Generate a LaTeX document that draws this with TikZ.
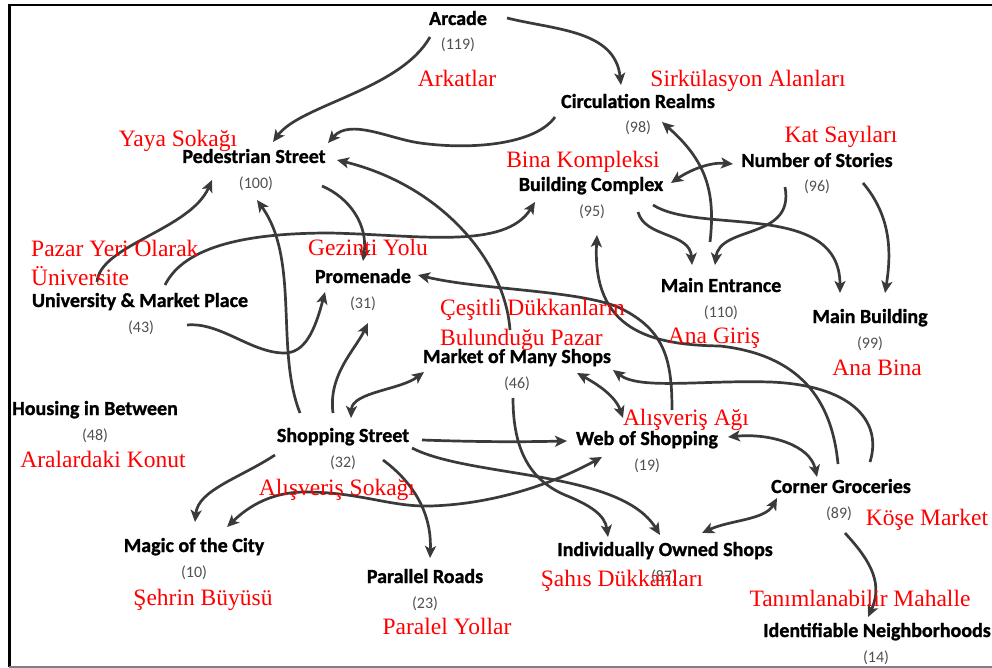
\documentclass[tikz,border=0pt]{standalone}
\usepackage{fontspec}
\usetikzlibrary{arrows.meta}
\newfontfamily\lblfam{Carlito}[BoldFeatures={FakeBold=1.2}]
\newfontfamily\trfam{Liberation Serif}
\definecolor{edgec}{RGB}{58,58,58}
\definecolor{numc}{RGB}{80,80,80}
\tikzset{
 lbl/.style={font=\lblfam\bfseries\fontsize{20}{22}\selectfont, anchor=base, inner sep=0pt, text=black},
 num/.style={font=\lblfam\fontsize{16}{18}\selectfont, anchor=base, inner sep=0pt, text=numc},
 tr/.style={font=\trfam\fontsize{23.5}{26}\selectfont, anchor=base, inner sep=0pt, text=red},
 trl/.style={tr, anchor=base west},
 edge/.style={draw=edgec, line width=2.7pt, -{Stealth[length=12pt,width=11pt,inset=3pt]}},
 bi/.style={draw=edgec, line width=2.7pt, {Stealth[length=12pt,width=11pt,inset=3pt]}-{Stealth[length=12pt,width=11pt,inset=3pt]}},
}
\begin{document}
\begin{tikzpicture}[x=1pt,y=-1pt]
\useasboundingbox (0,0) rectangle (992,668);
\fill[white] (0,0) rectangle (992,668);
% frame
\draw[line width=2pt] (8,5.5) -- (992,5.5);
\draw[line width=3pt] (9.5,4.5) -- (9.5,667);
\draw[gray, line width=1.5pt] (9,667) -- (992,667);

% concept labels
\node[lbl] (arc) at (458,25) {Arcade};
\node[num] (arcn) at (458,50) {(119)};
\node[lbl] (circ) at (638,108) {Circulation Realms};
\node[num] (circn) at (638,133) {(98)};
\node[lbl] (ped) at (254,163) {Pedestrian Street};
\node[num] (pedn) at (256,189) {(100)};
\node[lbl] (nos) at (817,167) {Number of Stories};
\node[num] (nosn) at (817,192) {(96)};
\node[lbl] (bc) at (591,191) {Building Complex};
\node[num] (bcn) at (592,217) {(95)};
\node[lbl] (univ) at (140,307) {University \& Market Place};
\node[num] (univn) at (141,332) {(43)};
\node[lbl] (prom) at (363,283) {Promenade};
\node[num] (promn) at (363,308) {(31)};
\node[lbl] (ment) at (721,292) {Main Entrance};
\node[num] (mentn) at (721,317) {(110)};
\node[lbl] (mbld) at (870,323) {Main Building};
\node[num] (mbldn) at (870,348) {(99)};
\node[lbl] (mkt) at (517,363) {Market of Many Shops};
\node[num] (mktn) at (517,388) {(46)};
\node[lbl] (hous) at (95,415) {Housing in Between};
\node[num] (housn) at (95,440) {(48)};
\node[lbl] (shop) at (343,442) {Shopping Street};
\node[num] (shopn) at (343,467) {(32)};
\node[lbl] (web) at (647,445) {Web of Shopping};
\node[num] (webn) at (647,470) {(19)};
\node[lbl] (corn) at (841,493) {Corner Groceries};
\node[num] (cornn) at (839,518) {(89)};
\node[lbl] (magic) at (194,552) {Magic of the City};
\node[num] (magicn) at (194,577) {(10)};
\node[lbl] (indiv) at (665,556) {Individually Owned Shops};
\node[num] (indivn) at (664,581) {(87)};
\node[lbl] (par) at (425,583) {Parallel Roads};
\node[num] (parn) at (425,608) {(23)};
\node[lbl] (ident) at (877,637) {Identifiable Neighborhoods};
\node[num] (identn) at (876,662) {(14)};

% connectors
\draw[edge] ([shift={(-28,12)}]arc.base) .. controls (400,90) and (300,105) .. ([shift={(19,-21)}]ped.base);
\draw[edge] ([shift={(49,-7)}]arc.base) .. controls (555,30) and (615,30) .. ([shift={(-17,-23)}]circ.base);
\draw[edge] ([shift={(-83,9)}]circ.base) .. controls (535,145) and (470,150) .. (420,143) .. controls (390,139) and (350,118) .. ([shift={(74,-20)}]ped.base);
\draw[bi] ([shift={(80,-8)}]bc.base) .. controls (690,170) and (710,162) .. ([shift={(-84,-3)}]nos.base);
\draw[edge] ([shift={(68,23)}]ped.base) .. controls (350,198) and (368,225) .. ([shift={(0,-22)}]prom.base);
\draw[edge] ([shift={(-7,-33)}]mkt.base) .. controls (505,260) and (440,185) .. ([shift={(83,-3)}]ped.base);
\draw[edge] ([shift={(-43,-29)}]shop.base) .. controls (275,350) and (300,260) .. ([shift={(3,37)}]ped.base);
\draw[edge] ([shift={(-43,-25)}]univ.base) .. controls (100,245) and (190,230) .. ([shift={(-42,17)}]ped.base);
\draw[edge] ([shift={(25,-22)}]univ.base) .. controls (185,245) and (250,233) .. (330,233) .. controls (420,235) and (505,250) .. ([shift={(-56,11)}]bc.base);
\draw[edge] ([shift={(47,18)}]univ.base) .. controls (220,322) and (250,352) .. (283,353) .. controls (305,354) and (315,330) .. ([shift={(-38,9)}]prom.base);
\draw[edge] ([shift={(-10,-29)}]shop.base) .. controls (328,375) and (355,350) .. ([shift={(5,40)}]prom.base);
\draw[bi] ([shift={(8,-24)}]shop.base) .. controls (352,392) and (400,390) .. ([shift={(-93,9)}]mkt.base);
\draw[edge] ([shift={(79,-2)}]shop.base) .. controls (480,442) and (520,442) .. ([shift={(-80,-4)}]web.base);
\draw[edge] ([shift={(-68,13)}]shop.base) .. controls (240,478) and (198,490) .. ([shift={(1,-30)}]magic.base);
\draw[bi] ([shift={(33,-25)}]magic.base) .. controls (255,500) and (280,492) .. (305,492) .. controls (360,492) and (390,507) .. (430,506) .. controls (500,504) and (560,480) .. ([shift={(-45,12)}]web.base);
\draw[edge] ([shift={(40,18)}]shop.base) .. controls (410,480) and (432,510) .. ([shift={(5,-25)}]par.base);
\draw[edge] ([shift={(69,6)}]shop.base) .. controls (470,478) and (620,470) .. ([shift={(-5,-21)}]indiv.base);
\draw[edge] ([shift={(-4,35)}]mkt.base) .. controls (513,450) and (530,480) .. (565,495) .. controls (590,505) and (605,515) .. ([shift={(-57,-19)}]indiv.base);
\draw[bi] ([shift={(81,-8)}]web.base) .. controls (770,433) and (810,445) .. ([shift={(-24,-16)}]corn.base);
\draw[bi] ([shift={(-64,5)}]corn.base) .. controls (765,520) and (730,520) .. ([shift={(37,-23)}]indiv.base);
\draw[edge] ([shift={(4,40)}]corn.base) .. controls (865,555) and (885,580) .. ([shift={(-9,-20)}]ident.base);
\draw[bi] ([shift={(60,10)}]mkt.base) .. controls (595,383) and (615,395) .. ([shift={(-24,-27)}]web.base);
\draw[edge] ([shift={(29,-31)}]corn.base) .. controls (883,420) and (850,385) .. (770,382) .. controls (700,380) and (640,390) .. ([shift={(96,7)}]mkt.base);
\draw[edge] ([shift={(25,-35)}]web.base) .. controls (672,360) and (665,330) .. (620,308) .. controls (580,290) and (480,290) .. ([shift={(55,-8)}]prom.base);
\draw[edge] ([shift={(-3,-29)}]corn.base) .. controls (832,400) and (800,355) .. (720,346) .. controls (650,345) and (592,330) .. ([shift={(6,44)}]bc.base);
\draw[edge] ([shift={(-11,-50)}]ment.base) .. controls (716,190) and (705,160) .. ([shift={(24,14)}]circ.base);
\draw[edge] ([shift={(47,21)}]bc.base) .. controls (645,238) and (690,232) .. ([shift={(-29,-27)}]ment.base);
\draw[edge] ([shift={(-32,20)}]nos.base) .. controls (795,240) and (720,225) .. ([shift={(-6,-27)}]ment.base);
\draw[edge] ([shift={(62,14)}]bc.base) .. controls (700,235) and (840,200) .. ([shift={(-30,-30)}]mbld.base);
\draw[edge] ([shift={(46,16)}]nos.base) .. controls (890,215) and (892,250) .. ([shift={(15,-30)}]mbld.base);

% Turkish translations
\node[tr] (t1) at (457,87) {Arkatlar};
\node[tr] (t2) at (748,87) {Sirkülasyon Alanları};
\node[tr] (t3) at (178,147) {Yaya Sokağı};
\node[tr] (t4) at (841,143) {Kat Sayıları};
\node[tr] (t5) at (583,168) {Bina Kompleksi};
\node[trl] (t6a) at (31,256) {Pazar Yeri Olarak};
\node[trl] (t6b) at (31,285) {Üniversite};
\node[tr] (t7) at (368,255) {Gezinti Yolu};
\node[tr] (t8) at (714,343) {Ana Giriş};
\node[tr] (t9) at (877,375) {Ana Bina};
\node[trl] (t10a) at (440,315) {Çeşitli Dükkanların};
\node[trl] (t10b) at (440,345) {Bulunduğu Pazar};
\node[tr] (t11) at (103,467) {Aralardaki Konut};
\node[tr] (t12) at (337,495) {Alışveriş Sokağı};
\node[tr] (t13) at (686,425) {Alışveriş Ağı};
\node[tr] (t14) at (927,525) {Köşe Market};
\node[tr] (t15) at (203,605) {Şehrin Büyüsü};
\node[tr] (t16) at (622,586) {Şahıs Dükkanları};
\node[tr] (t17) at (447,634) {Paralel Yollar};
\node[tr] (t18) at (860,606) {Tanımlanabilir Mahalle};
\end{tikzpicture}
\end{document}
